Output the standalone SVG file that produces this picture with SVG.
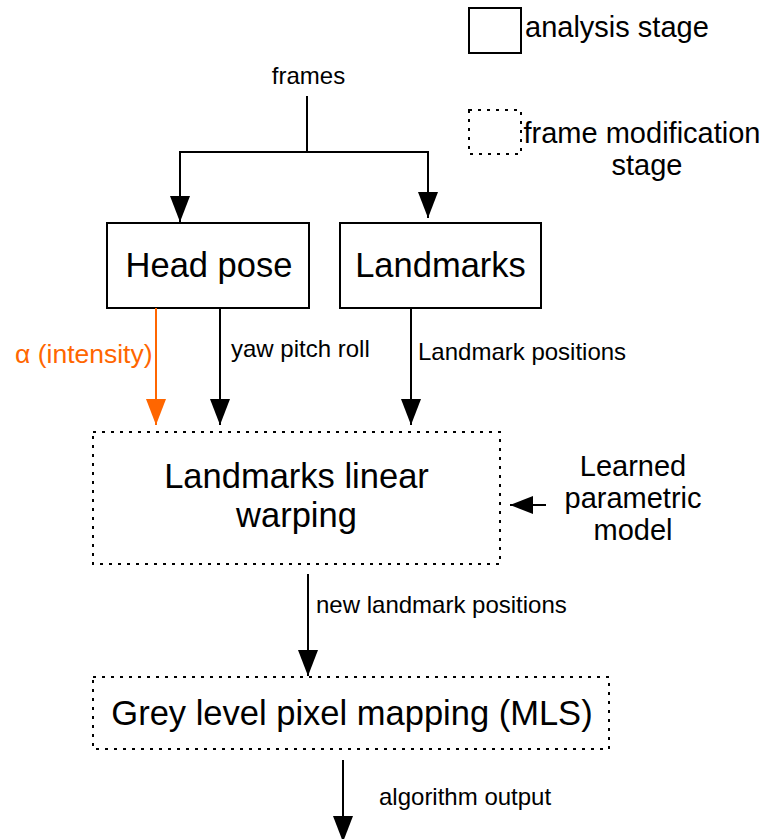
<svg xmlns="http://www.w3.org/2000/svg" width="766" height="839" viewBox="0 0 766 839">
<style>
text{font-family:"Liberation Sans",Helvetica,Arial,sans-serif;fill:#000}
.box{fill:#fff;stroke:#000;stroke-width:2}
.dot{fill:#fff;stroke:#000;stroke-width:2;stroke-dasharray:3 6}
.big{font-size:34.5px;text-anchor:middle}
.lbl{font-size:24px}
.leg{font-size:29px}
.c{fill:none;stroke:#000;stroke-width:2}
.or{fill:none;stroke:#FF6600;stroke-width:2}
</style>
<defs>
<marker id="ah" markerUnits="userSpaceOnUse" markerWidth="26" markerHeight="20" refX="26" refY="10" orient="auto"><path d="M0,0 L26,10 L0,20 z" fill="#000"/></marker>
<marker id="aho" markerUnits="userSpaceOnUse" markerWidth="26" markerHeight="20" refX="26" refY="10" orient="auto"><path d="M0,0 L26,10 L0,20 z" fill="#FF6600"/></marker>
<marker id="ahs" markerUnits="userSpaceOnUse" markerWidth="23" markerHeight="18" refX="23" refY="9" orient="auto"><path d="M0,0 L23,9 L0,18 z" fill="#000"/></marker>
</defs>
<rect width="766" height="839" fill="#fff"/>
<g id="legend-analysis">
<rect class="box" x="469" y="8" width="52" height="45"/>
<text class="leg" x="525" y="37">analysis stage</text>
</g>
<g id="legend-modification">
<rect class="dot" x="469" y="110" width="52" height="44"/>
<text class="leg" x="642" y="143" text-anchor="middle">frame modification</text>
<text class="leg" x="647" y="175" text-anchor="middle">stage</text>
</g>
<g id="head-pose">
<rect class="box" x="107" y="223" width="202" height="85"/>
<text class="big" x="209" y="277">Head pose</text>
</g>
<g id="landmarks">
<rect class="box" x="340" y="223" width="201" height="85"/>
<text class="big" x="440.5" y="277">Landmarks</text>
</g>
<g id="warping">
<rect class="dot" x="93" y="432" width="407" height="132"/>
<text class="big" x="296.5" y="488">Landmarks linear</text>
<text class="big" x="296.5" y="527">warping</text>
</g>
<g id="learned-model">
<text x="633" y="476" font-size="29" text-anchor="middle">Learned</text>
<text x="633" y="508" font-size="29" text-anchor="middle">parametric</text>
<text x="633" y="540" font-size="29" text-anchor="middle">model</text>
</g>
<g id="grey-mapping">
<rect class="dot" x="93" y="677" width="516" height="72"/>
<text class="big" x="352" y="725">Grey level pixel mapping (MLS)</text>
</g>
<g id="connectors">
<text class="lbl" x="308.5" y="84" text-anchor="middle">frames</text>
<path class="c" d="M307,96 V152 M179,152 H429"/>
<path class="c" d="M180,152 V222" marker-end="url(#ah)"/>
<path class="c" d="M428,152 V218" marker-end="url(#ah)"/>
<path class="or" d="M156,308 V425" marker-end="url(#aho)"/>
<text x="15" y="363" font-size="26.5" style="fill:#FF6600">α (intensity)</text>
<path class="c" d="M220,308 V425" marker-end="url(#ah)"/>
<text class="lbl" x="231" y="357">yaw pitch roll</text>
<path class="c" d="M411,308 V425" marker-end="url(#ah)"/>
<text class="lbl" x="418" y="360">Landmark positions</text>
<path class="c" d="M546,505 H510" marker-end="url(#ahs)"/>
<path class="c" d="M308,574 V676" marker-end="url(#ah)"/>
<text class="lbl" x="316" y="613">new landmark positions</text>
<path class="c" d="M343,760 V842" marker-end="url(#ah)"/>
<text class="lbl" x="379" y="805">algorithm output</text>
</g>
</svg>
